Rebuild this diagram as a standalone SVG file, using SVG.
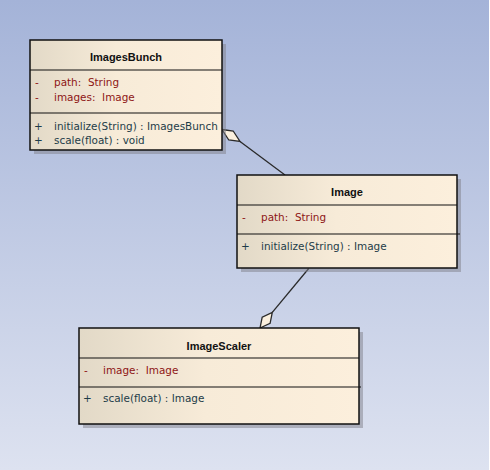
<svg xmlns="http://www.w3.org/2000/svg" width="490" height="470" viewBox="0 0 490 470">
<defs>
<linearGradient id="bg" x1="0" y1="0" x2="0" y2="1">
<stop offset="0" stop-color="#a4b3d8"/>
<stop offset="1" stop-color="#dde2f0"/>
</linearGradient>
<linearGradient id="box" x1="0" y1="0" x2="1" y2="0">
<stop offset="0" stop-color="#e2d9c7"/>
<stop offset="0.45" stop-color="#f7ebd8"/>
<stop offset="1" stop-color="#fcefdc"/>
</linearGradient>
<style>
.sh{fill:#7f7f8a;fill-opacity:0.5}
.bx{fill:url(#box);stroke:#111;stroke-width:1.5}
.dv{stroke:#111;stroke-width:1.2}
.t{font-family:"Liberation Sans",Arial,sans-serif;font-size:11px;font-weight:bold;fill:#111;text-anchor:middle}
.a{font-family:"DejaVu Sans",Verdana,sans-serif;font-size:10.45px;fill:#8e1515;white-space:pre}
.o{font-family:"DejaVu Sans",Verdana,sans-serif;font-size:10.45px;fill:#1d3c48;white-space:pre}
.ln{stroke:#2a2a2a;stroke-width:1.3;fill:none}
.dm{fill:#fbf0de;stroke:#2a2a2a;stroke-width:1.3}
</style>
</defs>
<rect x="0" y="0" width="490" height="470" fill="url(#bg)"/>
<rect x="489" y="0" width="1" height="470" fill="#ffffff"/>

<g id="connectors">
<line class="ln" x1="240" y1="141.5" x2="285" y2="175"/>
<polygon class="dm" points="222,129.5 233.2,131 240,141.5 228.8,140"/>
<line class="ln" x1="272.3" y1="312.3" x2="308.7" y2="268.5"/>
<polygon class="dm" points="260,328 270.1,323.3 272.3,312.3 262.2,317.1"/>
</g>

<g id="ImagesBunch">
<rect class="sh" x="34" y="44" width="192" height="110"/>
<rect class="bx" x="30" y="40" width="192" height="110"/>
<line class="dv" x1="30" y1="70" x2="222" y2="70"/>
<line class="dv" x1="30" y1="113" x2="222" y2="113"/>
<text class="t" x="126" y="61">ImagesBunch</text>
<text class="a" x="35" y="86">-</text><text class="a" x="54" y="86" xml:space="preserve">path:  String</text>
<text class="a" x="35" y="101">-</text><text class="a" x="54" y="101" xml:space="preserve">images:  Image</text>
<text class="o" x="34" y="130">+</text><text class="o" x="54" y="130">initialize(String) : ImagesBunch</text>
<text class="o" x="34" y="143.5">+</text><text class="o" x="54" y="143.5">scale(float) : void</text>
</g>

<g id="Image">
<rect class="sh" x="241" y="179" width="220" height="93"/>
<rect class="bx" x="237" y="175" width="220" height="93"/>
<line class="dv" x1="237" y1="205" x2="457" y2="205"/>
<line class="dv" x1="237" y1="234" x2="460" y2="234"/>
<text class="t" x="347" y="196">Image</text>
<text class="a" x="242" y="221">-</text><text class="a" x="261" y="221" xml:space="preserve">path:  String</text>
<text class="o" x="241" y="250">+</text><text class="o" x="261" y="250">initialize(String) : Image</text>
</g>

<g id="ImageScaler">
<rect class="sh" x="83" y="332" width="280" height="96"/>
<rect class="bx" x="79" y="328" width="280" height="96"/>
<line class="dv" x1="79" y1="358" x2="359" y2="358"/>
<line class="dv" x1="79" y1="387" x2="361" y2="387"/>
<text class="t" x="219" y="349.5">ImageScaler</text>
<text class="a" x="84" y="374">-</text><text class="a" x="103" y="374" xml:space="preserve">image:  Image</text>
<text class="o" x="83" y="402">+</text><text class="o" x="103" y="402">scale(float) : Image</text>
</g>
</svg>
